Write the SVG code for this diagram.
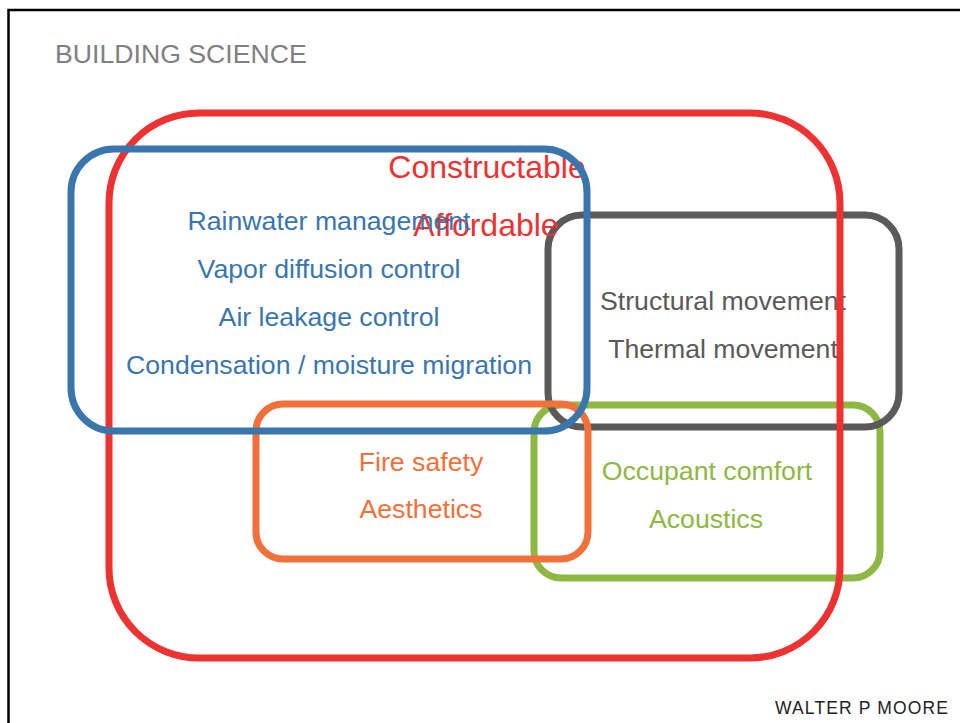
<svg xmlns="http://www.w3.org/2000/svg" width="960" height="723" viewBox="0 0 960 723">
<style>
text{font-family:"Liberation Sans",Arial,Helvetica,sans-serif;font-size:26.67px;text-anchor:middle}
.box{fill:none;stroke-width:7}
.blue{fill:#3a76ae}.red{fill:#ee3131}.gray{fill:#5a5a5a}.orange{fill:#f2713a}.green{fill:#8db843}
.big{font-size:32px}
</style>
<rect x="0" y="0" width="960" height="723" fill="#ffffff"/>
<rect x="8.5" y="10" width="1000" height="800" fill="none" stroke="#000" stroke-width="2.5"/>
<text x="55" y="63" style="text-anchor:start" fill="#7f7f7f">BUILDING SCIENCE</text>
<g id="connectors"></g>
<g id="green-set">
<rect class="box" x="534" y="405" width="346" height="173" rx="27" stroke="#8db843"/>
<text class="green" x="707" y="480">Occupant comfort</text>
<text class="green" x="706" y="528">Acoustics</text>
</g>
<g id="gray-set">
<rect class="box" x="548" y="215" width="351" height="212" rx="34" stroke="#5a5a5a" stroke-width="7.5"/>
<text class="gray" x="723" y="310">Structural movement</text>
<text class="gray" x="723" y="358">Thermal movement</text>
</g>
<g id="orange-set">
<rect class="box" x="256" y="404" width="332" height="155" rx="27" stroke="#f2713a"/>
<text class="orange" x="421" y="471">Fire safety</text>
<text class="orange" x="421" y="518">Aesthetics</text>
</g>
<g id="red-set">
<rect class="box" x="109" y="113" width="731" height="545" rx="90" stroke="#ee3131" stroke-width="7.5"/>
<text class="red big" x="487" y="178">Constructable</text>
<text class="red big" x="486" y="236">Affordable</text>
</g>
<g id="blue-set">
<rect class="box" x="71" y="149" width="516" height="282" rx="43" stroke="#3a76ae"/>
<text class="blue" x="329" y="230">Rainwater management</text>
<text class="blue" x="329" y="278">Vapor diffusion control</text>
<text class="blue" x="329" y="326">Air leakage control</text>
<text class="blue" x="329" y="374">Condensation / moisture migration</text>
</g>
<text x="775" y="714" fill="#222" style="text-anchor:start;font-size:17.5px" textLength="173" lengthAdjust="spacing">WALTER P MOORE</text>
</svg>
